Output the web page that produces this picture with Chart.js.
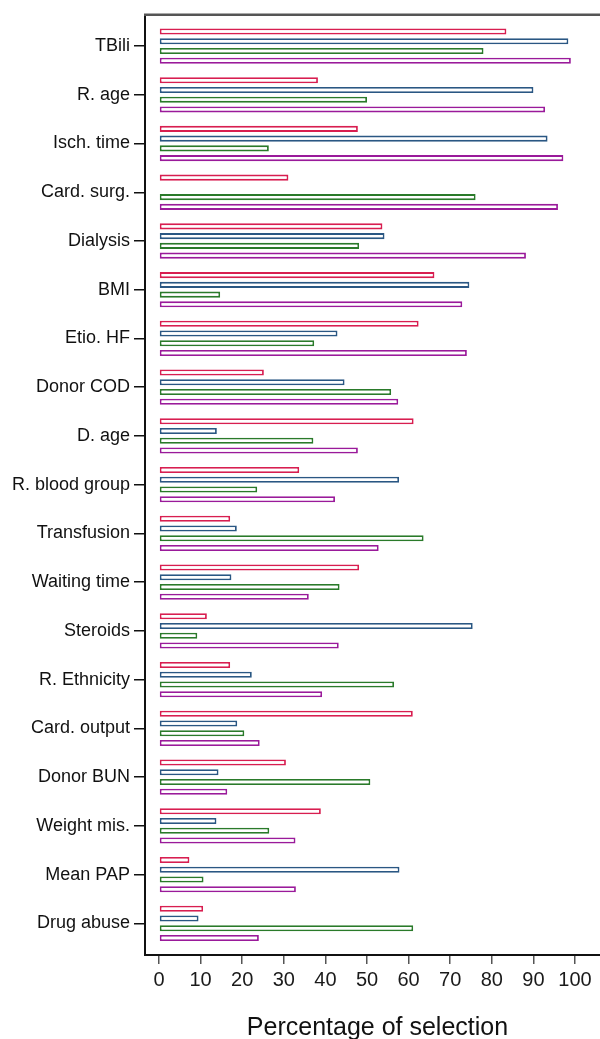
<!DOCTYPE html>
<html>
<head>
<meta charset="utf-8">
<script src="https://cdn.jsdelivr.net/npm/chart.js@4/dist/chart.umd.min.js"></script>
<style>
  html, body { margin: 0; padding: 0; background: #fff; overflow: hidden; }
  canvas { display: block; }
</style>
</head>
<body>
<canvas id="chart" width="610" height="1039" style="width:610px;height:1039px"></canvas>
<script>
// Predictors, top to bottom
const categories = ['TBili', 'R. age', 'Isch. time', 'Card. surg.', 'Dialysis', 'BMI', 'Etio. HF',
  'Donor COD', 'D. age', 'R. blood group', 'Transfusion', 'Waiting time', 'Steroids',
  'R. Ethnicity', 'Card. output', 'Donor BUN', 'Weight mis.', 'Mean PAP', 'Drug abuse'];

// Percentage of selection per model
const model1 = [83.5, 38.2, 47.8, 31.1, 53.7, 66.2, 62.4, 25.2, 61.2, 33.7, 17.1, 48.1, 11.5, 17.1, 61.0, 30.5, 38.9, 7.3, 10.6];
const model2 = [98.4, 90.0, 93.4, null, 54.2, 74.6, 42.9, 44.6, 13.9, 57.7, 18.7, 17.4, 75.4, 22.3, 18.8, 14.3, 13.8, 57.8, 9.5];
const model3 = [78.0, 50.0, 26.4, 76.1, 48.1, 14.7, 37.3, 55.8, 37.1, 23.6, 63.6, 43.4, 9.2, 56.5, 20.5, 50.8, 26.5, 10.7, 61.1];
const model4 = [99.0, 92.8, 97.2, 95.9, 88.2, 72.9, 74.0, 57.5, 47.8, 42.3, 52.8, 36.0, 43.2, 39.2, 24.2, 16.4, 32.8, 32.9, 24.0];

const seriesNames = ['Model 1', 'Model 2', 'Model 3', 'Model 4'];
const seriesColors = ['#d81e50', '#2a5783', '#2a7a2a', '#9a1a9a'];
const xTickValues = [0, 10, 20, 30, 40, 50, 60, 70, 80, 90, 100];

const FONT = "'Liberation Sans', Arial, Helvetica, sans-serif";

const datasets = [model1, model2, model3, model4].map((vals, k) => ({
  label: seriesNames[k],
  data: vals.map((v, i) => ({ y: i, x: v })),
  borderColor: seriesColors[k],
  backgroundColor: '#ffffff',
  borderWidth: 1.8,
  borderSkipped: false,
  categoryPercentage: 0.8,
  barPercentage: 0.62
}));

// Top edge of the plot frame
const topFrame = {
  id: 'topFrame',
  afterDraw(chart) {
    const { ctx, chartArea } = chart;
    ctx.save();
    ctx.strokeStyle = '#555555';
    ctx.lineWidth = 2.5;
    ctx.beginPath();
    ctx.moveTo(chartArea.left - 1, chartArea.top);
    ctx.lineTo(chartArea.right, chartArea.top);
    ctx.stroke();
    ctx.restore();
  }
};

new Chart(document.getElementById('chart'), {
  type: 'bar',
  data: { datasets },
  options: {
    indexAxis: 'y',
    responsive: false,
    animation: false,
    devicePixelRatio: 1,
    layout: { padding: { top: 14, left: 0, right: 0, bottom: 0 } },
    plugins: { legend: { display: false }, tooltip: { enabled: false } },
    scales: {
      y: {
        type: 'linear',
        reverse: true,
        offset: false,
        min: -0.641,
        max: 18.65,
        afterBuildTicks(scale) { scale.ticks = categories.map((_, i) => ({ value: i })); },
        afterFit(scale) { scale.width = 145; },
        ticks: {
          autoSkip: false,
          padding: 4,
          color: '#111111',
          font: { family: FONT, size: 18 },
          callback: (v) => categories[v]
        },
        grid: {
          offset: false,
          drawOnChartArea: false,
          drawTicks: true,
          tickLength: 11,
          color: '#111111',
          lineWidth: 1.5
        },
        border: { display: true, color: '#111111', width: 2 }
      },
      x: {
        type: 'linear',
        position: 'bottom',
        min: -3.37,
        max: 108.41,
        afterBuildTicks(scale) { scale.ticks = xTickValues.map(v => ({ value: v })); },
        afterFit(scale) { scale.height = 84; },
        ticks: {
          autoSkip: false,
          maxRotation: 0,
          padding: 4,
          color: '#1a1a1a',
          font: { family: FONT, size: 20 }
        },
        grid: {
          drawOnChartArea: false,
          drawTicks: true,
          tickLength: 9,
          color: '#555555',
          lineWidth: 1.5
        },
        border: { display: true, color: '#111111', width: 2 },
        title: {
          display: true,
          text: 'Percentage of selection',
          color: '#111111',
          font: { family: FONT, size: 25 },
          padding: { top: 0, bottom: -4 }
        }
      }
    }
  },
  plugins: [topFrame]
});
</script>
</body>
</html>
